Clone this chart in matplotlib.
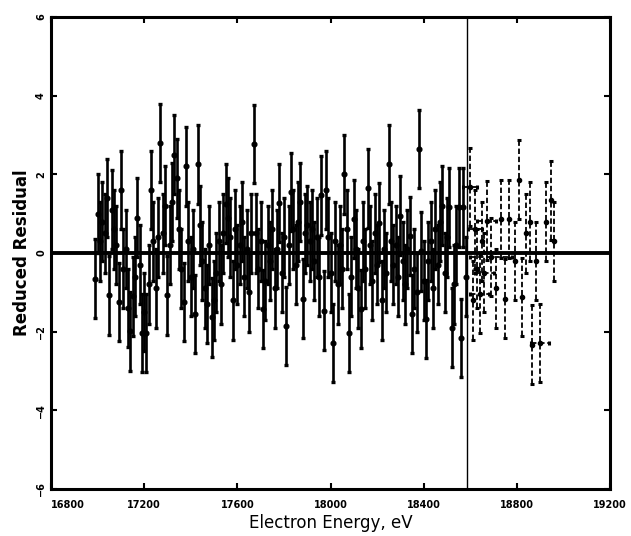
import numpy as np
import matplotlib.pyplot as plt

# scan below the endpoint: 10 eV steps from 16990 eV
scan_start = 16990
scan_step = 10
resid_main = [
    -0.65, 1.0, 0.3, 0.8, 0.5, 1.4, -1.08, 1.1, 0.6, 0.2,
    -1.25, 1.6, -0.4, 0.1, -1.4, -1.99, -1.1, -0.6, 0.9, -0.3,
    -2.03, -1.5, -2.03, -0.8, 1.6, 0.3, -0.9, 0.4, 2.8, 0.5,
    1.2, -1.08, 0.2, 1.3, 2.5, 1.9, 0.6, -0.4, -1.25, 2.2,
    0.3, -0.6, 0.1, -1.55, 2.25, 0.7, -0.2, -0.9, -1.3, 0.2,
    -1.64, -1.2, -0.5, 0.3, -0.8, 0.5, 1.25, 0.9, 0.4, -1.2,
    0.6, -0.3, 0.2, 0.8, -0.6, 0.1, -1.0, 0.5, 2.77, 0.5,
    -0.4, 0.3, -1.42, -0.7, 0.2, -0.2, 0.6, -0.9, 0.1, 1.27,
    -0.5, 0.4, -1.86, 0.2, 1.55, 0.6, -0.3, 0.8, 1.3, -1.16,
    0.5, 0.7, 0.3, 0.6, -0.2, 0.4, -0.6, 1.47, -1.47, 1.6,
    0.4, -0.5, -2.29, 0.3, -0.8, 0.2, -0.4, 2.0, 0.6, -2.03,
    -0.6, 0.86, 0.1, -0.9, -1.42, 0.3, -0.4, 1.64, 0.2, -0.7,
    0.5, -0.3, 0.77, -1.2, 0.1, -0.5, 2.25, 0.3, -0.3, 0.2,
    -0.6, 0.95, -0.2, -0.8, 0.1, 0.43, -1.55, -0.4, -1.0, 2.64,
    0.04, -0.7, -1.68, -0.2, 0.3, -0.9, 0.6, -0.3, 0.8, 1.2,
    -0.5, 0.4, 1.16, -1.9, -0.8, 0.2, 1.16, -2.16, 1.16, -0.6,
]

# points above the endpoint
energy_tail = [18600, 18610, 18620, 18630, 18640, 18650, 18660, 18670, 18690, 18710,
               18730, 18750, 18765, 18790, 18810, 18820, 18840, 18855, 18865, 18880,
               18900, 18925, 18945, 18960]
resid_tail = [1.68, -1.2, 0.6, -0.4, -1.03, 0.3, -0.5, 0.82, -0.1, -0.9,
              0.86, -1.16, 0.86, -0.2, 1.86, -1.12, 0.5, 0.8, -2.33, -0.2,
              -2.29, 0.8, 1.34, 0.3]
width_tail = [30, 0, 30, 0, 40, 0, 40, 40, 90, 0,
              0, 0, 0, 0, 0, 0, 0, 0, 0, 0,
              40, 0, 0, 0]

endpoint = 18586
sigma = 1.0

energy_main = scan_start + scan_step * np.arange(len(resid_main))

fig = plt.figure(figsize=(6.31, 5.36), dpi=100)
ax = fig.add_axes([0.0808, 0.0877, 0.886, 0.8806])

ax.errorbar(energy_main, resid_main, yerr=sigma, fmt='o', color='black',
            ms=3.4, lw=1.9, capsize=1.6, capthick=2.4, zorder=3)

eb = ax.errorbar(energy_tail, resid_tail, yerr=sigma, xerr=width_tail, fmt='o',
                 color='black', ms=3, lw=1.3, capsize=1.3, capthick=2.2, zorder=3)
for lc in eb[2]:
    lc.set_linestyle((0, (3, 1.5)))

ax.axhline(0, color='black', lw=2.8, zorder=4)
ax.axvline(endpoint, color='black', lw=1.0, zorder=4)

ax.set_xlim(16800, 19200)
ax.set_ylim(-6, 6)
ax.set_xticks(np.arange(16800, 19201, 400))
ax.set_yticks(np.arange(-6, 7, 2))
ax.tick_params(direction='in', length=4, width=1.5, top=True, right=True,
               labelsize=7)
ax.tick_params(axis='x', pad=8)
for lab in ax.get_xticklabels():
    lab.set_fontweight('bold')
ax.get_xticklabels()[0].set_ha('left')
for lab in ax.get_yticklabels():
    lab.set_fontweight('bold')
    lab.set_rotation(90)
    lab.set_va('center')
for sp in ax.spines.values():
    sp.set_linewidth(2.2)

ax.set_xlabel('Electron Energy, eV', fontsize=12, labelpad=3)
ax.set_ylabel('Reduced Residual', fontsize=12, fontweight='bold', labelpad=4)

fig.savefig('out.png', dpi=100)
